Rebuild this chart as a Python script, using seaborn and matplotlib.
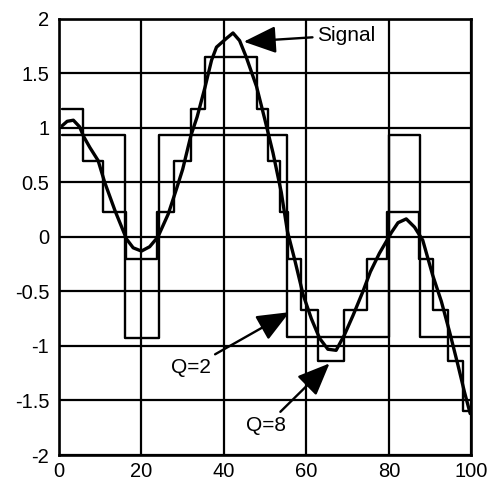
import matplotlib
matplotlib.use("Agg")
import matplotlib.pyplot as plt
import seaborn as sns

# signal
sig_x = [0.8, 2.0, 3.5, 5.0, 6.0, 7.5, 9.5, 11.1, 13.6, 16.4, 18.0, 20.0, 22.0, 24.0,
         26.5, 28.5, 30.0, 32.0, 33.5, 35.4, 37.0, 38.2, 40.6, 42.2, 43.8, 45.4, 47.9,
         49.9, 51.9, 53.9, 55.4, 57.1, 59.2, 61.2, 63.2, 65.2, 67.2, 69.2, 71.3, 73.7,
         75.5, 77.7, 79.7, 80.6, 82.2, 84.2, 86.2, 88.2, 90.6, 92.7, 94.7, 96.7, 98.3, 99.7]
sig_y = [1.02, 1.06, 1.07, 1.01, 0.92, 0.82, 0.70, 0.50, 0.24, -0.02, -0.10, -0.13, -0.09, 0.00,
         0.21, 0.44, 0.62, 0.93, 1.10, 1.37, 1.62, 1.74, 1.82, 1.87, 1.80, 1.65, 1.38,
         1.08, 0.77, 0.41, 0.05, -0.20, -0.53, -0.75, -0.93, -1.03, -1.04, -0.90, -0.72, -0.50,
         -0.32, -0.15, -0.02, 0.04, 0.13, 0.165, 0.09, -0.03, -0.35, -0.59, -0.87, -1.17, -1.42, -1.62]

# Q=2 quantised signal (vertices of the staircase)
q2_x = [0.8, 16.1, 16.1, 24.2, 24.2, 55.4, 55.4, 80.0, 80.0, 87.6, 87.6, 99.7]
q2_y = [0.93, 0.93, -0.93, -0.93, 0.93, 0.93, -0.92, -0.92, 0.93, 0.93, -0.92, -0.92]

# Q=8 quantised signal
q8_x = [0.8, 5.9, 5.9, 10.7, 10.7, 16.2, 16.2, 23.8, 23.8, 28.0, 28.0, 32.0, 32.0, 35.4,
        35.4, 47.9, 47.9, 50.8, 50.8, 53.5, 53.5, 55.5, 55.5, 58.6, 58.6, 62.9, 62.9, 69.2,
        69.2, 74.6, 74.6, 79.5, 79.5, 87.4, 87.4, 90.6, 90.6, 94.3, 94.3, 97.9, 97.9, 99.7]
q8_y = [1.17, 1.17, 0.70, 0.70, 0.23, 0.23, -0.20, -0.20, 0.23, 0.23, 0.70, 0.70, 1.17, 1.17,
        1.65, 1.65, 1.17, 1.17, 0.70, 0.70, 0.23, 0.23, -0.20, -0.20, -0.67, -0.67, -1.14, -1.14,
        -0.67, -0.67, -0.20, -0.20, 0.23, 0.23, -0.20, -0.20, -0.67, -0.67, -1.14, -1.14, -1.60, -1.60]

x_ticks = [0, 20, 40, 60, 80, 100]
y_ticks = [-2, -1.5, -1, -0.5, 0, 0.5, 1, 1.5, 2]
y_tick_labels = ["-2", "-1.5", "-1", "-0.5", "0", "0.5", "1", "1.5", "2"]

sns.set_style("white")
plt.rcParams["font.family"] = ["Liberation Sans", "DejaVu Sans"]
plt.rcParams["text.color"] = "black"

fig = plt.figure(figsize=(4.87, 4.82), dpi=100)
ax = fig.add_axes([0.121, 0.056, 0.847, 0.905])

line_kw = dict(color="black", sort=False, estimator=None, legend=False)
sns.lineplot(x=q2_x, y=q2_y, ax=ax, linewidth=1.7, zorder=3, **line_kw)
sns.lineplot(x=q8_x, y=q8_y, ax=ax, linewidth=1.7, zorder=3, **line_kw)
sns.lineplot(x=sig_x, y=sig_y, ax=ax, linewidth=2.4, zorder=4, **line_kw)

ax.set_xlim(0, 100)
ax.set_ylim(-2, 2)
ax.set_xticks(x_ticks)
ax.set_yticks(y_ticks)
ax.set_yticklabels(y_tick_labels)
ax.tick_params(axis="both", length=0, labelsize=14.5, colors="black")
ax.tick_params(axis="y", pad=7)
ax.tick_params(axis="x", pad=5)
ax.grid(True, color="black", linewidth=1.6)
ax.set_axisbelow(True)
for sp in ax.spines.values():
    sp.set_color("black")
    sp.set_linewidth(1.9)

arrow = dict(arrowstyle="-|>,head_length=1.0,head_width=0.42", mutation_scale=20,
             color="black", linewidth=1.7, shrinkA=1, shrinkB=0)
ax.annotate("Signal", xy=(44.8, 1.79), xytext=(62.6, 1.85), fontsize=15, color="black",
            ha="left", va="center", arrowprops=arrow, zorder=5)
ax.annotate("Q=2", xy=(55.9, -0.69), xytext=(32.1, -1.20), fontsize=15, color="black",
            ha="center", va="center", arrowprops=arrow, zorder=5)
ax.annotate("Q=8", xy=(65.6, -1.16), xytext=(50.3, -1.73), fontsize=15, color="black",
            ha="center", va="center", arrowprops=arrow, zorder=5)

fig.savefig("out.png", dpi=100)
plt.close(fig)
